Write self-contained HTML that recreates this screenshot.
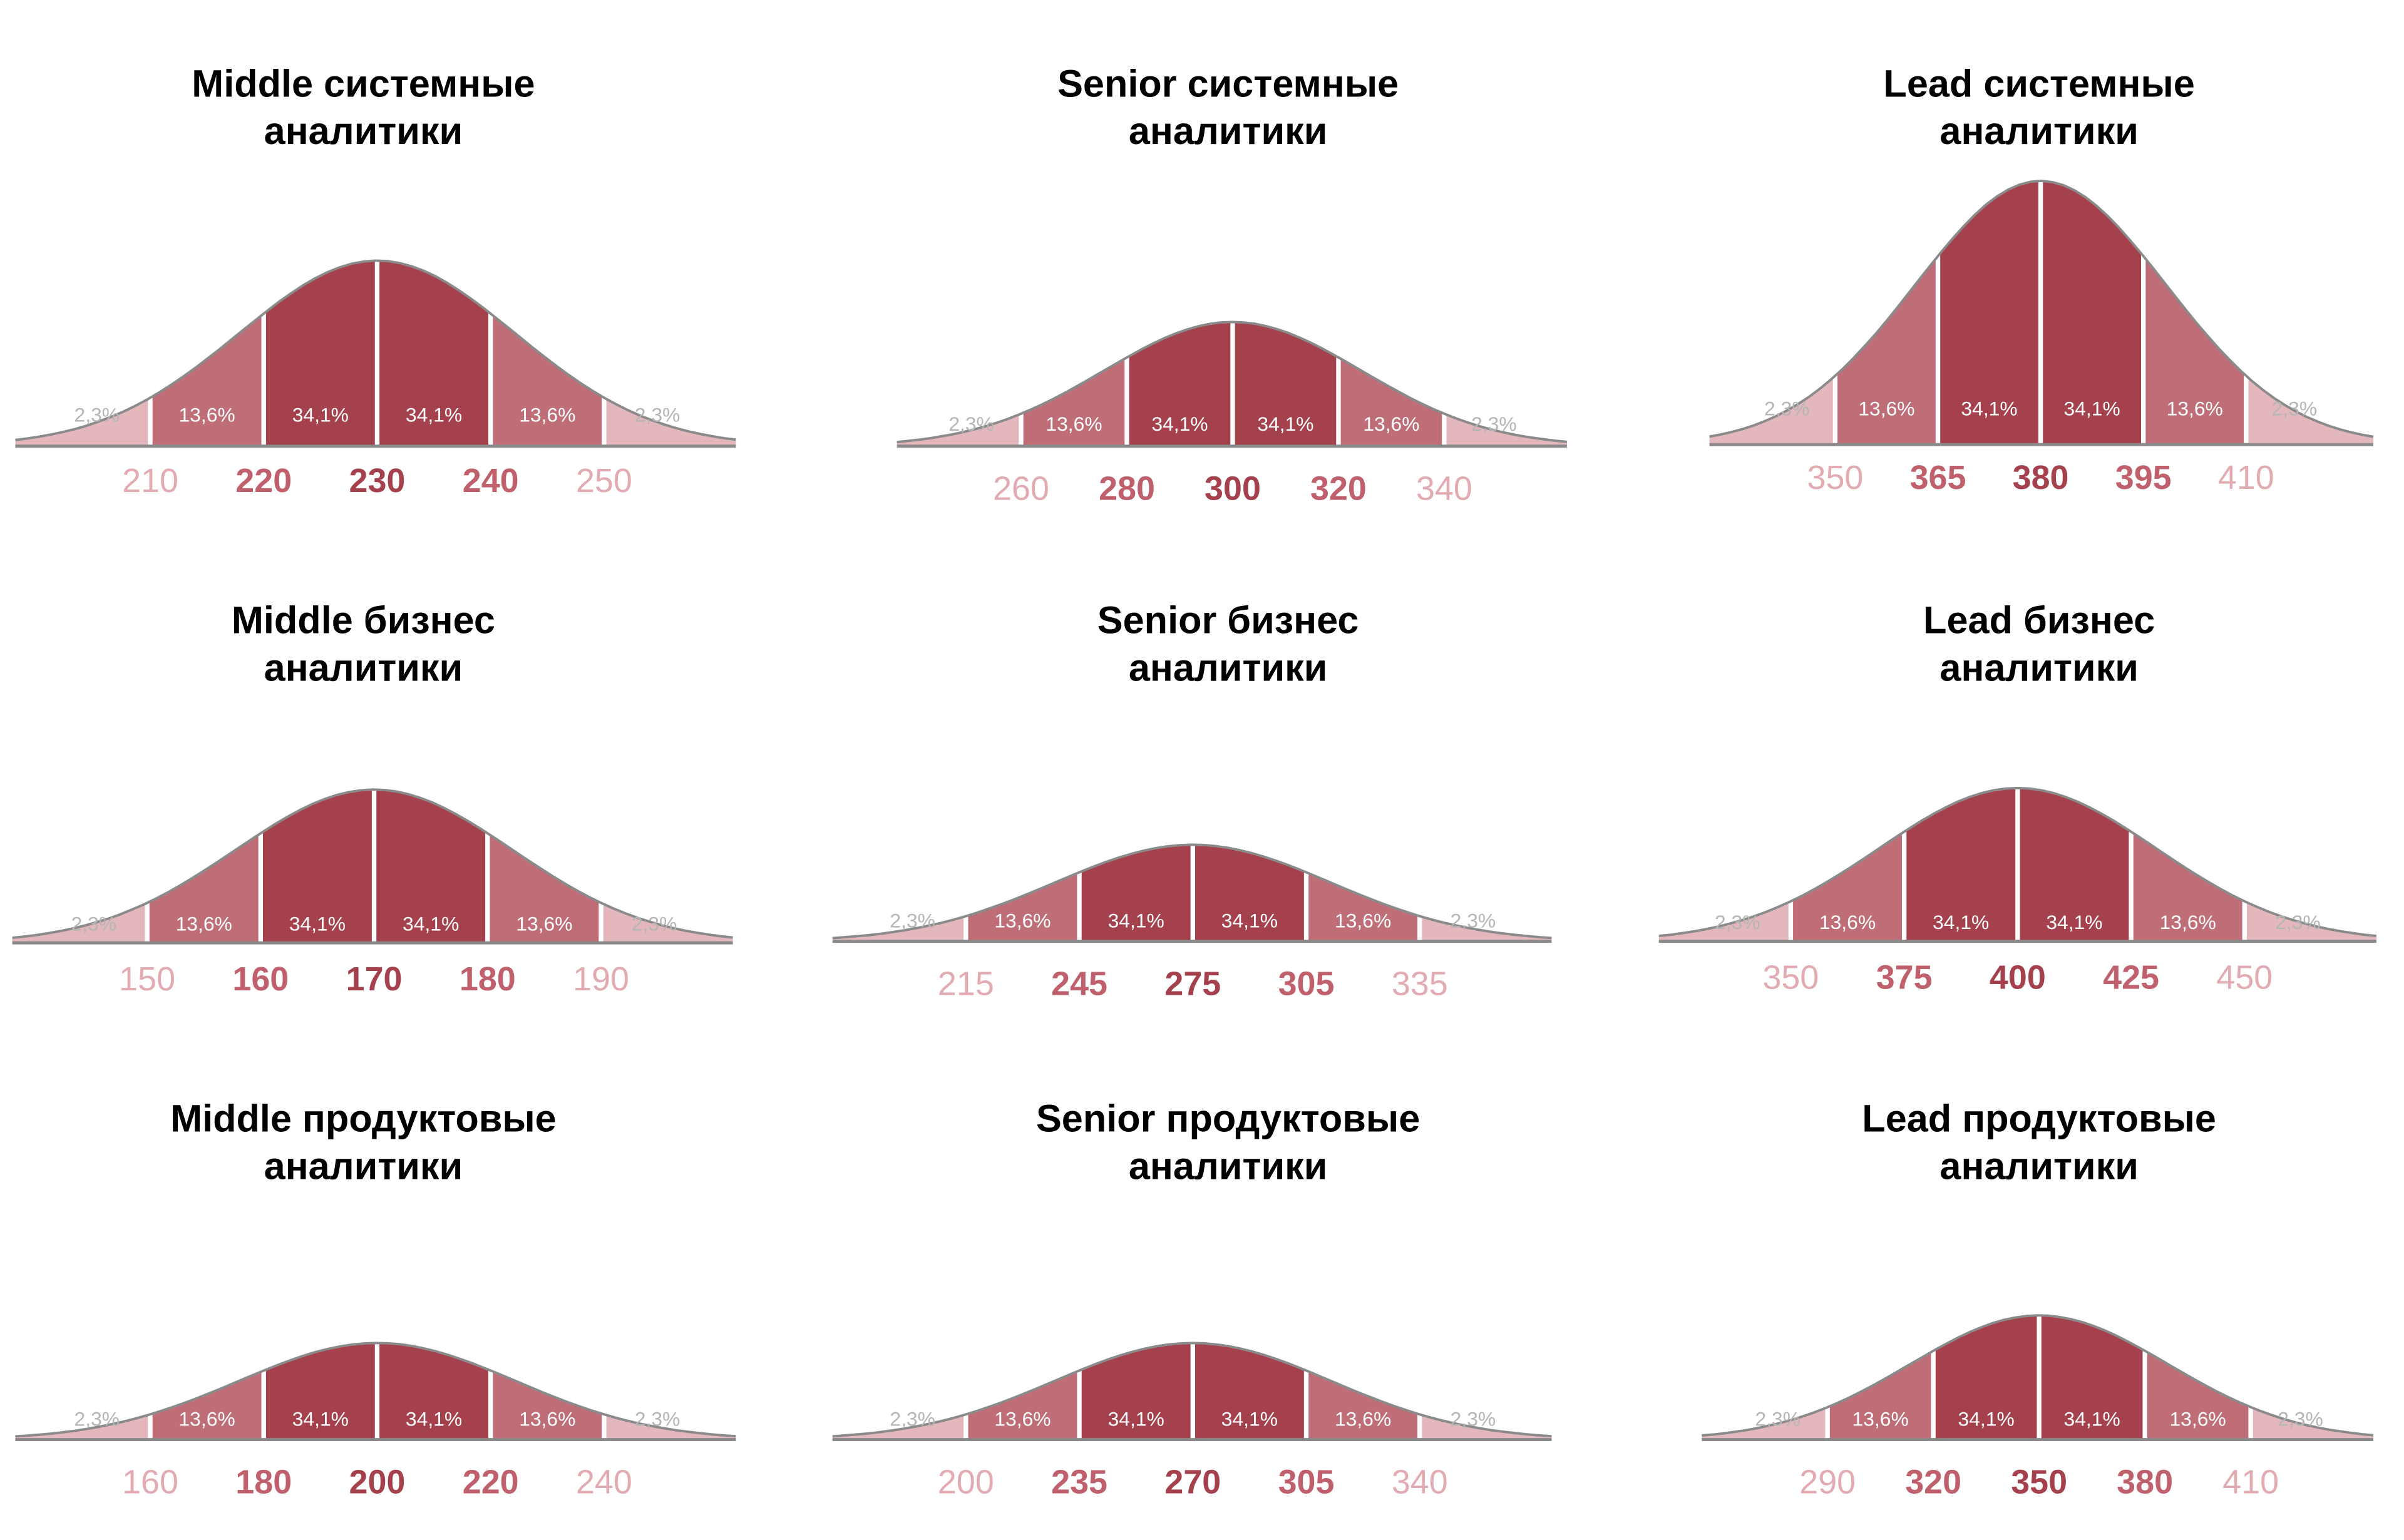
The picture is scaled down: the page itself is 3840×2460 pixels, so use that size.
<!DOCTYPE html>
<html><head><meta charset="utf-8"><style>
html,body{margin:0;padding:0;background:#fff}
svg{display:block}
text{font-family:"Liberation Sans","DejaVu Sans",sans-serif}
</style></head><body>
<svg id="c" xmlns="http://www.w3.org/2000/svg" width="3840" height="2460" viewBox="0 0 1568 1004.5"></svg>
<script>
// ---- data ----
const titlesTop = ["Middle системные","Senior системные","Lead системные","Middle бизнес","Senior бизнес","Lead бизнес","Middle продуктовые","Senior продуктовые","Lead продуктовые"];
const ticksA = [210,220,230,240,250];
const ticksB = [260,280,300,320,340];
const ticksC = [350,365,380,395,410];
const ticksD = [150,160,170,180,190];
const ticksE = [215,245,275,305,335];
const ticksF = [350,375,400,425,450];
const ticksG = [160,180,200,220,240];
const ticksH = [200,235,270,305,340];
const ticksI = [290,320,350,380,410];
const peakValues = [121,81,172,100,63,100,63,63,81];
const pctLabels = ["2,3%","13,6%","34,1%","34,1%","13,6%","2,3%"];
// ---- layout ----
const allTicks=[ticksA,ticksB,ticksC,ticksD,ticksE,ticksF,ticksG,ticksH,ticksI];
const layout=[
 {cx:246,sp:74,x0:10,x1:480,base:291,lab:313,pct:270,tx:237,ty:55},
 {cx:804,sp:69,x0:585,x1:1022,base:291,lab:318,pct:276,tx:801,ty:55},
 {cx:1331,sp:67,x0:1115,x1:1548,base:290,lab:311,pct:266,tx:1330,ty:55},
 {cx:244,sp:74,x0:8,x1:478,base:615,lab:638,pct:602,tx:237,ty:405},
 {cx:778,sp:74,x0:543,x1:1012,base:614,lab:641,pct:600,tx:801,ty:405},
 {cx:1316,sp:74,x0:1082,x1:1550,base:614,lab:637,pct:601,tx:1330,ty:405},
 {cx:246,sp:74,x0:10,x1:480,base:939,lab:966,pct:925,tx:237,ty:730},
 {cx:778,sp:74,x0:543,x1:1012,base:939,lab:966,pct:925,tx:801,ty:730},
 {cx:1330,sp:69,x0:1110,x1:1548,base:939,lab:966,pct:925,tx:1330,ty:730}
];
const fills=["#e3b7bc","#bf6e78","#a5404d","#a5404d","#bf6e78","#e3b7bc"];
const tickColors=["#e2aab1","#c0606c","#a5404d","#c0606c","#e2aab1"];
const svg=document.getElementById('c');
const NS="http://www.w3.org/2000/svg";
function mk(t,a){const e=document.createElementNS(NS,t);for(const k in a)e.setAttribute(k,a[k]);svg.appendChild(e);return e;}
const S=1.22;
allTicks.forEach((ticks,i)=>{
 const L=layout[i];
 const mean=ticks[2], step=ticks[3]-ticks[2];
 const xs=v=>L.cx+(v-mean)/step*L.sp;
 const ys=h=>L.base-h;
 const dens=x=>{const z=(x-L.cx)/L.sp/S;return peakValues[i]*Math.exp(-z*z/2);};
 const curvePts=(a,b)=>{let p=[];for(let k=0;k<=60;k++){const x=a+(b-a)*k/60;p.push([x,ys(dens(x))]);}return p;};
 // title
 const t=mk('text',{x:L.tx,y:L.ty+8,'text-anchor':'middle','font-size':25,'font-weight':'bold',fill:'#000'});
 
 
 t.textContent=titlesTop[i];
 const t2=mk('text',{x:L.tx,y:L.ty+39,'text-anchor':'middle','font-size':25,'font-weight':'bold',fill:'#000'});
 
 
 t2.textContent="аналитики";
 // segments
 const bounds=[L.x0,xs(ticks[0]),xs(ticks[1]),xs(ticks[2]),xs(ticks[3]),xs(ticks[4]),L.x1];
 for(let s=0;s<6;s++){
  const a=bounds[s],b=bounds[s+1];
  const pts=curvePts(a,b);
  let d=`M${a},${L.base} `+pts.map(p=>`L${p[0].toFixed(1)},${p[1].toFixed(1)}`).join(' ')+` L${b},${L.base} Z`;
  const seg=mk('path',{d,fill:fills[s]});
  
  
 }
 // white dividers
 for(let k=1;k<=5;k++){
  const x=bounds[k];
  const ln=mk('line',{x1:x,x2:x,y1:L.base,y2:ys(dens(x))-2,stroke:'#fff','stroke-width':3});
  
  
 }
 // curve
 const cp=curvePts(L.x0,L.x1);
 const cv=mk('path',{d:'M'+cp.map(p=>p[0].toFixed(1)+','+p[1].toFixed(1)).join(' L'),fill:'none',stroke:'#8a8a8a','stroke-width':1.6});
 
 
 const bl=mk('line',{x1:L.x0,x2:L.x1,y1:L.base,y2:L.base,stroke:'#8a8a8a','stroke-width':2});
 
 
 // pct labels
 const pos=[-2.47,-1.5,-0.5,0.5,1.5,2.47];
 pos.forEach((p,k)=>{
  const outer=(k===0||k===5);
  const tx=mk('text',{x:L.cx+p*L.sp,y:L.pct+5,'text-anchor':'middle','font-size':13,fill:outer?'#b5b5b5':'#fff'});
  
  
  tx.textContent=pctLabels[k];
 });
 // tick labels
 ticks.forEach((v,k)=>{
  const tx=mk('text',{x:xs(v),y:L.lab+8,'text-anchor':'middle','font-size':22,'font-weight':k===2?'bold':(k===0||k===4?'normal':'bold'),fill:tickColors[k]});
  
  
  tx.textContent=v;
 });
});
</script>
</body></html>
